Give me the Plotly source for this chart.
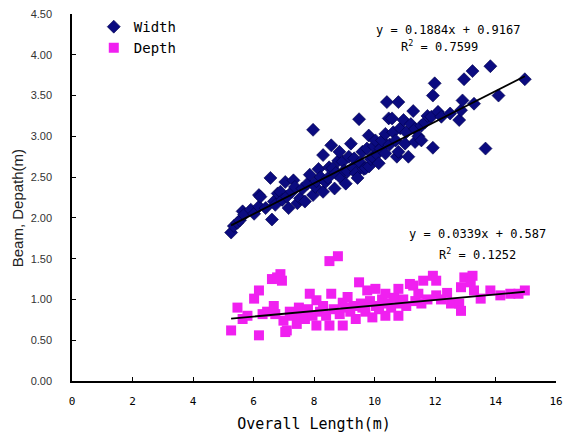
import plotly.graph_objects as go
import numpy as np

# ---- data ----
width_x = [5.26,5.35,5.47,5.55,5.64,5.69,5.91,6.02,6.18,6.18,6.23,6.40,6.56,6.61,6.67,6.72,6.80,6.89,6.95,7.05,
           7.10,7.16,7.27,7.32,7.37,7.45,7.54,7.62,7.70,7.78,7.86,7.97,7.97,8.05,8.08,8.15,8.22,8.30,8.30,8.38,
           8.46,8.50,8.57,8.62,8.68,8.72,8.80,8.84,8.89,8.95,9.00,9.05,9.11,9.15,9.22,9.28,9.33,9.38,9.44,9.49,
           9.52,9.60,9.65,9.71,9.75,9.81,9.82,9.88,9.93,9.98,10.03,10.08,10.14,10.20,10.25,10.36,10.36,10.41,10.47,10.50,
           10.58,10.62,10.70,10.74,10.79,10.79,10.85,10.96,11.01,11.05,11.12,11.20,11.28,11.34,11.34,11.45,11.55,11.55,11.66,11.75,
           11.88,11.93,11.93,11.99,12.10,12.21,12.50,12.80,12.86,12.91,12.96,13.24,13.29,13.67,13.83,14.10,14.97]
width_y = [1.82,1.90,1.94,1.97,2.08,2.04,2.10,2.05,2.14,2.28,2.26,2.12,2.49,1.98,2.20,2.16,2.30,2.32,2.22,2.44,
           2.26,2.12,2.32,2.46,2.38,2.18,2.24,2.36,2.20,2.42,2.53,2.28,3.08,2.38,2.45,2.60,2.50,2.77,2.32,2.44,
           2.49,2.62,2.89,2.61,2.36,2.55,2.70,2.81,2.49,2.69,2.58,2.42,2.57,2.75,2.91,2.62,2.73,2.55,2.49,3.21,
           2.68,2.81,2.60,2.61,2.85,3.01,2.63,2.72,2.75,2.88,2.95,2.78,2.67,2.85,2.95,3.03,2.79,3.42,3.22,2.90,
           3.22,3.05,2.95,2.75,3.42,2.81,3.10,3.20,2.91,3.05,2.75,3.15,3.31,3.09,2.93,3.00,2.95,3.13,3.17,3.25,
           3.24,3.50,2.86,3.65,3.30,3.24,3.28,3.20,3.32,3.44,3.70,3.80,3.40,2.85,3.86,3.50,3.70]

depth_x = [5.26,5.47,5.64,5.80,6.02,6.18,6.18,6.30,6.45,6.61,6.67,6.72,6.78,6.89,6.94,6.99,7.05,7.10,7.20,7.30,
           7.43,7.50,7.60,7.70,7.80,7.86,7.95,8.08,8.08,8.20,8.30,8.40,8.51,8.51,8.57,8.65,8.79,8.85,8.95,8.95,
           9.05,9.11,9.20,9.30,9.38,9.49,9.55,9.60,9.70,9.76,9.85,9.93,10.03,10.05,10.15,10.25,10.36,10.36,10.45,10.55,
           10.65,10.79,10.79,10.85,10.95,11.05,11.17,11.28,11.35,11.45,11.55,11.61,11.75,11.93,12.04,12.04,12.20,12.40,12.53,12.80,
           12.86,12.86,12.97,13.18,13.24,13.29,13.51,13.83,14.16,14.49,14.76,14.97]
depth_y = [0.62,0.90,0.76,0.80,1.01,1.11,0.56,0.82,0.85,1.25,0.92,0.82,1.27,1.31,1.23,0.74,0.60,0.62,0.85,0.80,
           0.70,0.90,0.82,0.76,0.88,1.07,0.80,0.99,0.68,0.85,0.92,0.80,1.47,0.68,1.07,0.88,1.53,0.82,0.96,0.68,
           0.90,1.03,0.85,0.92,0.76,1.21,0.95,0.90,0.85,1.11,0.98,0.78,1.13,0.92,0.88,1.00,1.07,0.80,0.95,0.90,
           1.02,1.13,0.80,0.95,1.00,0.92,1.19,1.17,0.98,1.07,0.95,1.23,1.00,1.29,1.23,1.05,1.00,1.08,0.95,0.95,
           1.15,0.86,1.27,1.21,1.29,1.11,1.01,1.11,1.05,1.07,1.07,1.11]

# trend line coefficients (as printed on the chart)
trend_slope = [0.1884, 0.0339]
trend_intercept = [0.9167, 0.587]
eq_labels = ["y = 0.1884x + 0.9167", "y = 0.0339x + 0.587"]
r2_labels = ["R<sup>2</sup> = 0.7599", "R<sup>2</sup> = 0.1252"]

x_ticks = [0, 2, 4, 6, 8, 10, 12, 14, 16]
y_ticks = [0, 0.5, 1.0, 1.5, 2.0, 2.5, 3.0, 3.5, 4.0, 4.5]
y_tick_text = ["0.00", "0.50", "1.00", "1.50", "2.00", "2.50", "3.00", "3.50", "4.00", "4.50"]

MONO = "DejaVu Sans Mono"
SANS = "Liberation Sans"

fig = go.Figure()
fig.add_trace(go.Scatter(x=width_x, y=width_y, mode="markers", name="Width",
                         marker=dict(symbol="diamond", size=10, color="#0b0b80", line=dict(width=0.6, color="#00004a"))))
fig.add_trace(go.Scatter(x=depth_x, y=depth_y, mode="markers", name="Depth",
                         marker=dict(symbol="square", size=10, color="#f020f0", line=dict(width=0))))

for xs, s, b in [(width_x, trend_slope[0], trend_intercept[0]), (depth_x, trend_slope[1], trend_intercept[1])]:
    lx = np.array([min(xs), max(xs)])
    fig.add_trace(go.Scatter(x=lx, y=s * lx + b, mode="lines", showlegend=False,
                             line=dict(color="black", width=1.8), hoverinfo="skip"))

afont = dict(family=MONO, size=12, color="black")
fig.add_annotation(x=12.45, y=4.31, text=eq_labels[0], showarrow=False, font=afont)
fig.add_annotation(x=12.15, y=4.11, text=r2_labels[0], showarrow=False, font=afont)
fig.add_annotation(x=13.41, y=1.80, text=eq_labels[1], showarrow=False, font=afont)
fig.add_annotation(x=13.41, y=1.56, text=r2_labels[1], showarrow=False, font=afont)
fig.add_annotation(x=-0.112, y=0.47, xref="paper", yref="paper", text="Beam, Depath(m)", textangle=-90,
                   showarrow=False, xanchor="center", yanchor="middle",
                   font=dict(family=SANS, size=15, color="#222"))

fig.update_layout(
    width=571, height=441,
    margin=dict(l=72, r=8, t=11, b=60),
    plot_bgcolor="white", paper_bgcolor="white",
    legend=dict(x=0.045, y=1.008, xanchor="left", yanchor="top", bgcolor="rgba(0,0,0,0)",
                font=dict(family=MONO, size=14, color="black"), itemwidth=30, tracegroupgap=0),
    xaxis=dict(range=[0, 16], tickvals=x_ticks, showgrid=False, zeroline=False,
               showline=True, linecolor="black", linewidth=1.5, ticks="inside", ticklen=4,
               tickcolor="black", tickfont=dict(family=MONO, size=11, color="black"), ticklabelstandoff=9,
               title=dict(text="Overall Length(m)", font=dict(family=MONO, size=15, color="black"), standoff=12)),
    yaxis=dict(range=[0, 4.5], tickvals=y_ticks, ticktext=y_tick_text, showgrid=False, zeroline=False,
               showline=True, linecolor="black", linewidth=1.5, ticks="inside", ticklen=4,
               tickcolor="black", tickfont=dict(family=SANS, size=11, color="#333"), ticklabelstandoff=16),
)

fig.write_html("out.html")
